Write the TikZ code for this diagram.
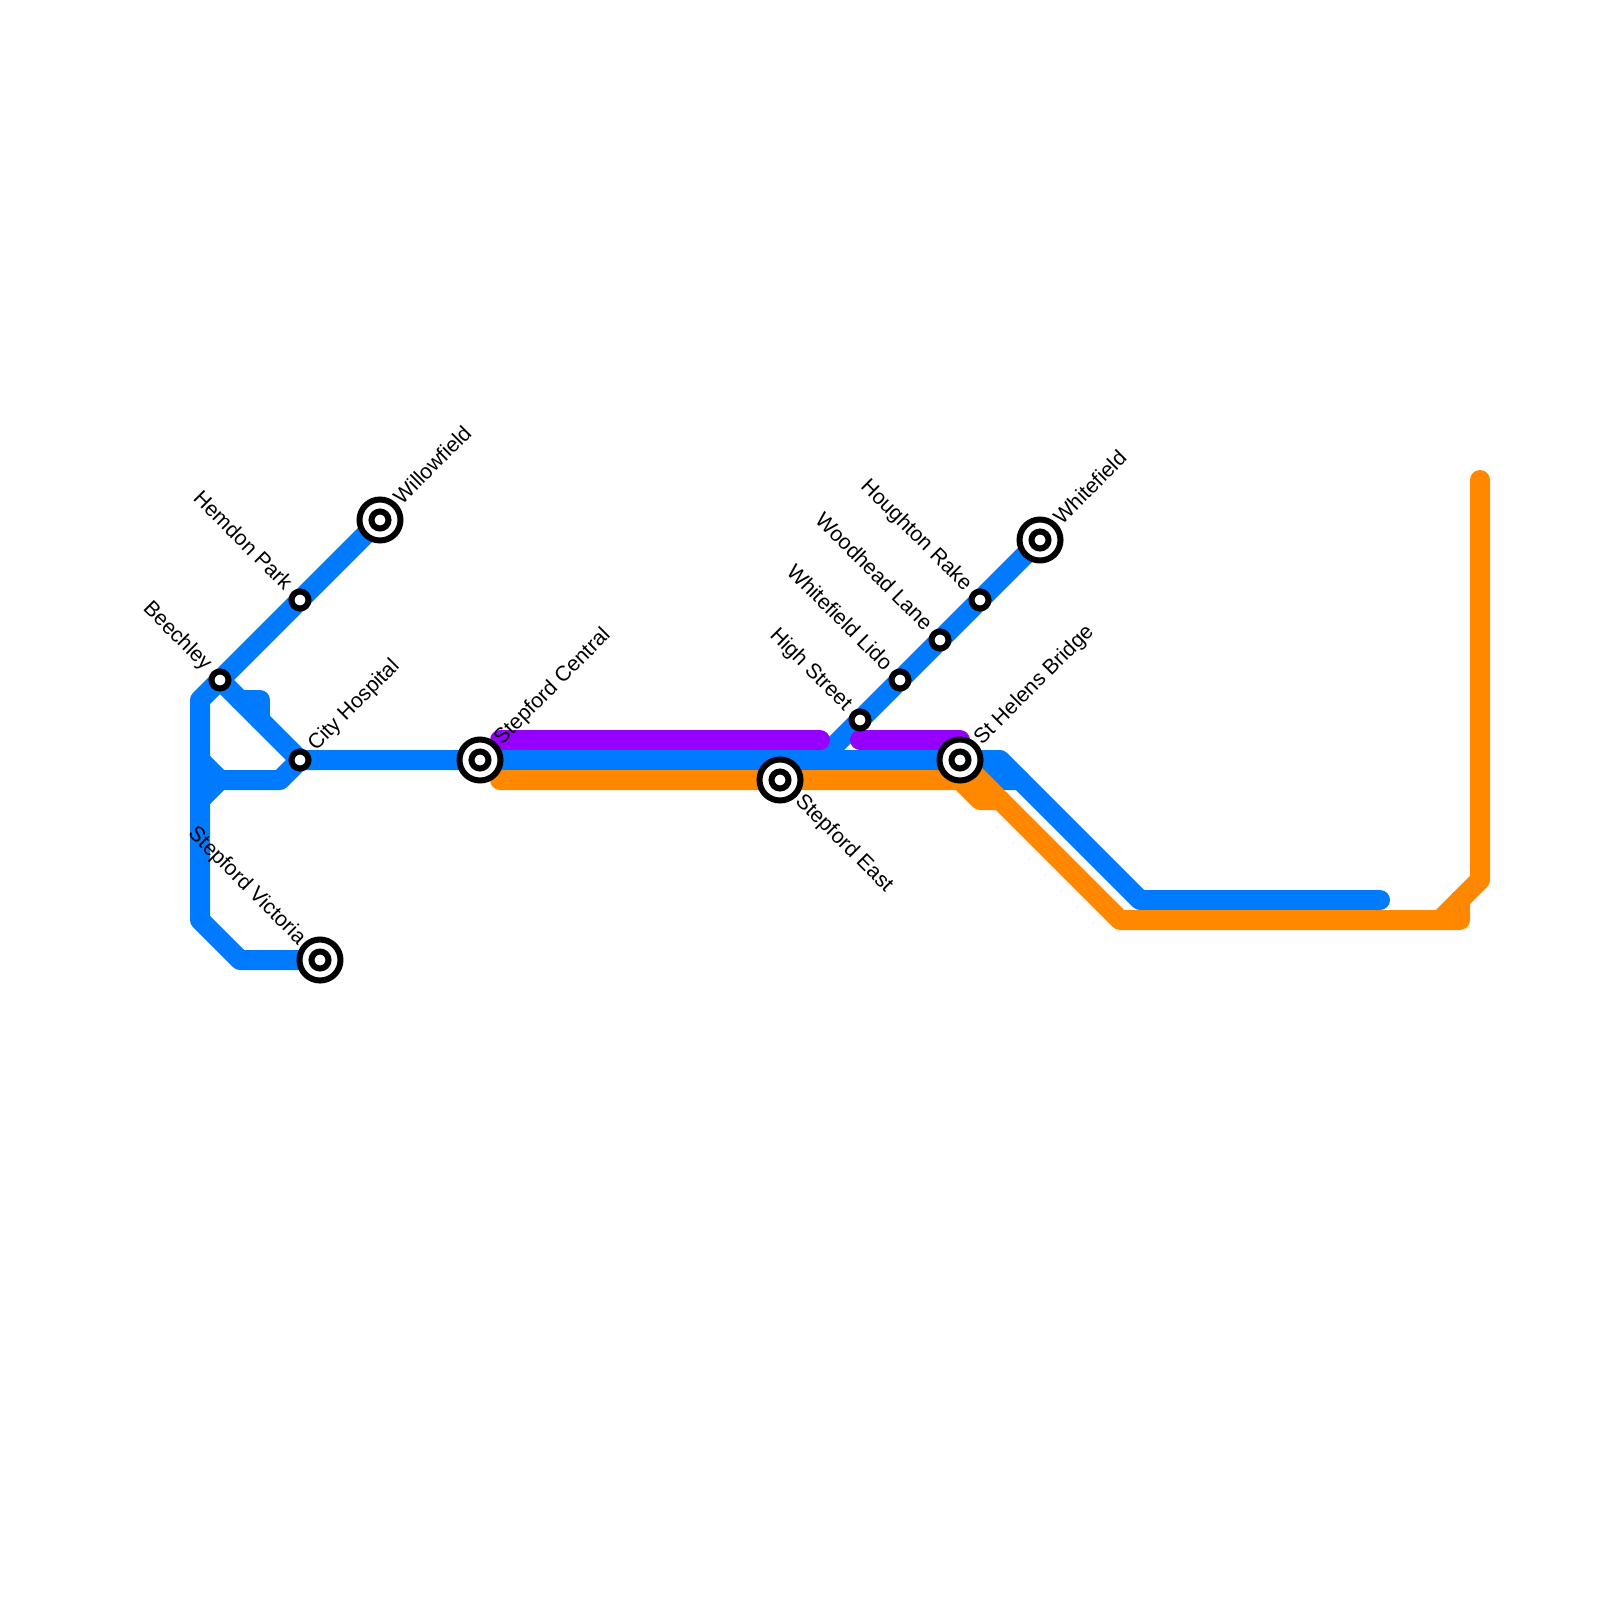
\documentclass[tikz,border=0pt]{standalone}
\usepackage{fontspec}
\setmainfont{Liberation Sans}
\usetikzlibrary{calc}
\definecolor{lblue}{HTML}{007BFF}
\definecolor{lorange}{HTML}{FF8800}
\definecolor{lpurple}{HTML}{9500FF}
\tikzset{
  x=0.5pt,y=-0.5pt,
  metro/.style={line width=10pt,line cap=round,line join=round},
  stn/.style={circle,draw=black,fill=white,line width=3pt,minimum size=8.5pt,inner sep=0pt,outer sep=0pt},
  hubouter/.style={circle,draw=black,fill=white,line width=3pt,minimum size=20.5pt,inner sep=0pt,outer sep=0pt},
  lab/.style={font=\fontsize{10.6pt}{12pt}\selectfont,inner sep=0pt,text=black},
  ne/.style={lab,rotate=45,anchor=mid west},
  nw/.style={lab,rotate=-45,anchor=mid east},
  se/.style={lab,rotate=-45,anchor=mid west},
}
\begin{document}
\begin{tikzpicture}
\useasboundingbox (0,0) rectangle (1600,1600);
% stations
\coordinate (beechley) at (220,680);
\coordinate (hemdon) at (300,600);
\coordinate (willow) at (380,520);
\coordinate (cityh) at (300,760);
\coordinate (central) at (480,760);
\coordinate (east) at (780,780);
\coordinate (helens) at (960,760);
\coordinate (high) at (860,720);
\coordinate (lido) at (900,680);
\coordinate (woodhead) at (940,640);
\coordinate (houghton) at (980,600);
\coordinate (whitef) at (1040,540);
\coordinate (victoria) at (320,960);
% junctions
\coordinate (j1) at (200,700);
\coordinate (j2) at (200,920);
\coordinate (j3) at (240,960);
\coordinate (j4) at (1000,760);
\coordinate (j5) at (1140,900);
\coordinate (j6) at (1380,900);
\coordinate (j7) at (200,760);
\coordinate (j8) at (220,780);
\coordinate (j9) at (280,780);
\coordinate (j10) at (200,800);
\coordinate (j11) at (240,700);
\coordinate (j12) at (260,700);
\coordinate (j13) at (260,720);
\coordinate (j14) at (820,760);
\coordinate (j15) at (980,760);
\coordinate (j16) at (1000,780);
\coordinate (j17) at (1020,780);
\coordinate (p1) at (500,740);
\coordinate (p2) at (820,740);
\coordinate (p3) at (860,740);
\coordinate (p4) at (960,740);
\coordinate (o1) at (500,780);
\coordinate (o2) at (960,780);
\coordinate (o3) at (980,800);
\coordinate (o4) at (1000,800);
\coordinate (o5) at (970,770);
\coordinate (o6) at (1120,920);
\coordinate (o7) at (1460,920);
\coordinate (o8) at (1460,900);
\coordinate (o9) at (1440,920);
\coordinate (o10) at (1480,880);
\coordinate (o11) at (1480,480);
% blue
\draw[metro,lblue] (willow) -- (beechley) -- (j1) -- (j2) -- (j3) -- (victoria);
\draw[metro,lblue] (beechley) -- (cityh) -- (central) -- (j4) -- (j5) -- (j6);
\draw[metro,lblue] (j7) -- (j8) -- (j9) -- (cityh);
\draw[metro,lblue] (j10) -- (j8);
\draw[metro,lblue] (j11) -- (j12) -- (j13);
\draw[metro,lblue] (j14) -- (whitef);
\draw[metro,lblue] (j15) -- (j16) -- (j17);
% purple
\draw[metro,lpurple] (p1) -- (p2);
\draw[metro,lpurple] (p3) -- (p4);
% orange
\draw[metro,lorange] (o1) -- (o2) -- (o3) -- (o4);
\draw[metro,lorange] (o2) -- (o5);
\draw[metro,lorange] (helens) -- (o6) -- (o7) -- (o8);
\draw[metro,lorange] (o9) -- (o10) -- (o11);
% markers
\foreach \n/\c in {sbeechley/beechley,shemdon/hemdon,scityh/cityh,shigh/high,slido/lido,swoodhead/woodhead,shoughton/houghton}
  \node[stn] (\n) at (\c) {};
\foreach \n/\c in {swillow/willow,scentral/central,seast/east,shelens/helens,swhitef/whitef,svictoria/victoria}{
  \node[hubouter] (\n) at (\c) {};
  \node[stn] (\n i) at (\c) {};
}
% labels
\node[ne] (lwillow) at ($(willow)+(18,-18)$) {Willowfield};
\node[ne] (lcentral) at ($(central)+(18,-18)$) {Stepford Central};
\node[ne] (lcity) at ($(cityh)+(12,-12)$) {City Hospital};
\node[ne] (lhelens) at ($(helens)+(18,-18)$) {St Helens Bridge};
\node[ne] (lwhite) at ($(whitef)+(18,-18)$) {Whitefield};
\node[se] (least) at ($(east)+(18,18)$) {Stepford East};
\node[nw] (lbeech) at ($(beechley)+(-12,-12)$) {Beechley};
\node[nw] (lhemdon) at ($(hemdon)+(-12,-12)$) {Hemdon Park};
\node[nw] (lhigh) at ($(high)+(-12,-12)$) {High Street};
\node[nw] (llido) at ($(lido)+(-12,-12)$) {Whitefield Lido};
\node[nw] (lwood) at ($(woodhead)+(-12,-12)$) {Woodhead Lane};
\node[nw] (lhough) at ($(houghton)+(-12,-12)$) {Houghton Rake};
\node[nw] (lvic) at ($(victoria)+(-18,-18)$) {Stepford Victoria};
\end{tikzpicture}
\end{document}
